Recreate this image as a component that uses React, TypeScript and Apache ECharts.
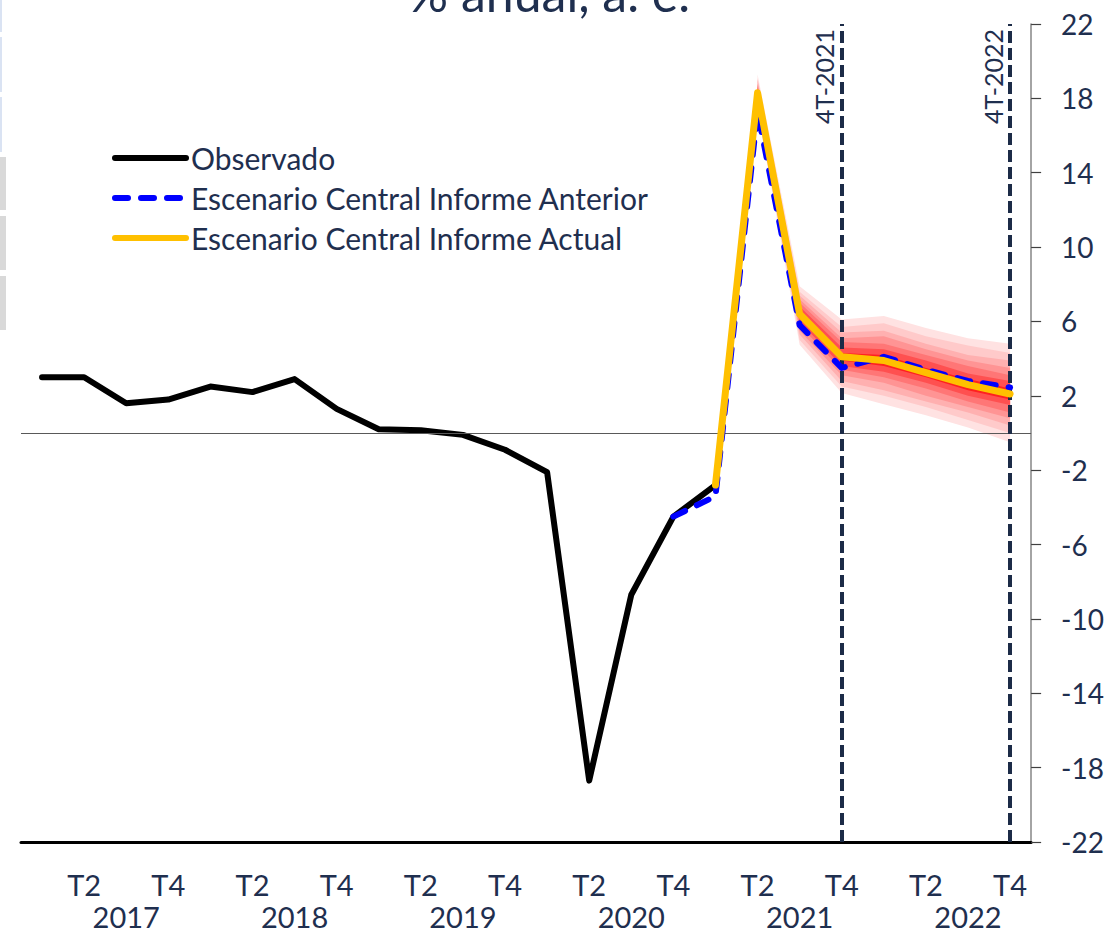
import { useEffect, useRef } from 'react';
import * as echarts from 'echarts';

const categories = [
  '2017 T1', '2017 T2', '2017 T3', '2017 T4',
  '2018 T1', '2018 T2', '2018 T3', '2018 T4',
  '2019 T1', '2019 T2', '2019 T3', '2019 T4',
  '2020 T1', '2020 T2', '2020 T3', '2020 T4',
  '2021 T1', '2021 T2', '2021 T3', '2021 T4',
  '2022 T1', '2022 T2', '2022 T3', '2022 T4',
];

const xTickLabels = [
  '', 'T2', '\n2017', 'T4',
  '', 'T2', '\n2018', 'T4',
  '', 'T2', '\n2019', 'T4',
  '', 'T2', '\n2020', 'T4',
  '', 'T2', '\n2021', 'T4',
  '', 'T2', '\n2022', 'T4',
];

const yTicks = [-22, -18, -14, -10, -6, -2, 2, 6, 10, 14, 18, 22];

// Observado: 2017 T1 .. 2021 T1
const observed = [3.0, 3.0, 1.6, 1.8, 2.5, 2.2, 2.9, 1.3, 0.2, 0.15, -0.1, -0.9, -2.1, -18.7, -8.7, -4.5, -2.8];
// Escenario Central Informe Anterior: 2020 T4 .. 2022 T4
const previousStart = 15;
const previousScenario = [-4.5, -3.4, 17.3, 5.8, 3.5, 4.1, 3.4, 2.8, 2.45];
// Escenario Central Informe Actual: 2021 T1 .. 2022 T4
const currentStart = 16;
const currentScenario = [-2.8, 18.3, 6.4, 4.1, 3.9, 3.25, 2.6, 2.1];

// Fan chart bands: 2021 T2 .. 2022 T4, outermost first
const fanStart = 17;
const fanUpper1 = [19.3, 7.9, 6.1, 6.3, 5.65, 5.1, 4.8];
const fanLower1 = [17.3, 4.75, 2.15, 1.55, 0.95, 0.3, -0.5];
const fanUpper2 = [19.1, 7.6, 5.7, 5.9, 5.2, 4.7, 4.3];
const fanLower2 = [17.5, 5.0, 2.5, 2.0, 1.4, 0.7, 0.0];
const fanUpper3 = [19.0, 7.4, 5.4, 5.5, 4.8, 4.2, 3.9];
const fanLower3 = [17.6, 5.3, 2.8, 2.3, 1.7, 1.1, 0.4];
const fanUpper4 = [18.8, 7.2, 5.1, 5.2, 4.5, 3.9, 3.5];
const fanLower4 = [17.8, 5.5, 3.1, 2.7, 2.0, 1.4, 0.8];
const fanUpper5 = [18.7, 7.0, 4.9, 4.8, 4.2, 3.6, 3.1];
const fanLower5 = [17.9, 5.8, 3.4, 3.0, 2.4, 1.7, 1.1];
const fanUpper6 = [18.6, 6.8, 4.6, 4.5, 3.9, 3.2, 2.8];
const fanLower6 = [18.0, 6.0, 3.6, 3.3, 2.7, 2.0, 1.5];
const fanUpper7 = [18.4, 6.6, 4.3, 4.2, 3.5, 2.9, 2.4];
const fanLower7 = [18.2, 6.2, 3.9, 3.6, 3.0, 2.3, 1.8];

const fanBands = [
  { upper: fanUpper1, lower: fanLower1, color: '#ffe2e2' },
  { upper: fanUpper2, lower: fanLower2, color: '#ffcaca' },
  { upper: fanUpper3, lower: fanLower3, color: '#ffb0b0' },
  { upper: fanUpper4, lower: fanLower4, color: '#ff9494' },
  { upper: fanUpper5, lower: fanLower5, color: '#ff7676' },
  { upper: fanUpper6, lower: fanLower6, color: '#ff5050' },
  { upper: fanUpper7, lower: fanLower7, color: '#ff2020' },
];

const projectionMarkers = [
  { category: '2021 T4', label: '4T-2021' },
  { category: '2022 T4', label: '4T-2022' },
];

const TEXT = '#1f2f4f';
const FONT = 'Lato';

function pad(start: number, arr: number[]) {
  return categories.map((_, i) => (i >= start && i - start < arr.length ? arr[i - start] : null));
}

function buildOption() {
  const fanSeries: any[] = [];
  fanBands.forEach((b, k) => {
    fanSeries.push({
      type: 'line',
      name: 'fanbase' + k,
      data: pad(fanStart, b.lower),
      stack: 'fan' + k,
      stackStrategy: 'all',
      symbol: 'none',
      lineStyle: { opacity: 0, width: 0 },
      silent: true,
      z: 1,
    });
    fanSeries.push({
      type: 'line',
      name: 'fanband' + k,
      data: pad(fanStart, b.upper.map((u, i) => u - b.lower[i])),
      stack: 'fan' + k,
      stackStrategy: 'all',
      symbol: 'none',
      lineStyle: { opacity: 0, width: 0 },
      areaStyle: { color: b.color, opacity: 1 },
      silent: true,
      z: 1,
    });
  });

  return {
    animation: false,
    backgroundColor: '#ffffff',
    textStyle: { fontFamily: FONT },
    grid: { left: 21, right: 73.5, top: 24, bottom: 85, containLabel: false },
    graphic: [
      { type: 'rect', shape: { x: 0, y: 0, width: 2, height: 32 }, style: { fill: '#dae3f3' } },
      { type: 'rect', shape: { x: 0, y: 37, width: 2, height: 55 }, style: { fill: '#dae3f3' } },
      { type: 'rect', shape: { x: 0, y: 97, width: 2, height: 55 }, style: { fill: '#dae3f3' } },
      { type: 'rect', shape: { x: 0, y: 157, width: 6, height: 53 }, style: { fill: '#d9d9d9' } },
      { type: 'rect', shape: { x: 0, y: 216, width: 6, height: 54 }, style: { fill: '#d9d9d9' } },
      { type: 'rect', shape: { x: 0, y: 276, width: 6, height: 54 }, style: { fill: '#d9d9d9' } },
      {
        type: 'text',
        x: 549,
        y: 18,
        style: {
          text: '% anual, a. e.',
          fontSize: 50,
          fontFamily: FONT,
          fill: TEXT,
          align: 'center',
          textAlign: 'center',
          verticalAlign: 'bottom',
          textVerticalAlign: 'bottom',
        },
      },
    ],
    legend: {
      data: ['Observado', 'Escenario Central Informe Anterior', 'Escenario Central Informe Actual'],
      orient: 'vertical',
      left: 112,
      top: 143,
      padding: 0,
      itemWidth: 71,
      itemHeight: 14,
      itemGap: 10,
      textStyle: { fontSize: 30, color: TEXT, fontFamily: FONT, lineHeight: 30 },
      lineStyle: { width: 6, cap: 'round' },
      itemStyle: { opacity: 0, borderWidth: 0 },
      selectedMode: false,
    },
    xAxis: {
      type: 'category',
      data: categories,
      boundaryGap: true,
      axisLine: { onZero: false, lineStyle: { color: '#000', width: 3 } },
      axisTick: { show: false },
      splitLine: { show: false },
      axisLabel: {
        interval: 0,
        formatter: (_v: string, idx: number) => xTickLabels[idx],
        fontSize: 29,
        lineHeight: 32,
        color: TEXT,
        fontFamily: FONT,
        margin: 26,
      },
    },
    yAxis: {
      type: 'value',
      position: 'right',
      min: -22,
      max: 22,
      splitLine: { show: false },
      axisLine: { show: true, lineStyle: { color: '#868686', width: 1.5 } },
      axisTick: { show: true, length: 10, inside: false, customValues: yTicks, lineStyle: { color: '#404040', width: 1.2 } },
      axisLabel: {
        customValues: yTicks,
        fontSize: 28,
        color: TEXT,
        fontFamily: FONT,
        margin: 30,
        align: 'left',
      },
    },
    series: [
      ...fanSeries,
      {
        type: 'line',
        name: 'markers',
        data: categories.map(() => null),
        symbol: 'none',
        silent: true,
        z: 3,
        markLine: {
          silent: true,
          symbol: ['none', 'none'],
          animation: false,
          data: [
            {
              yAxis: 0,
              lineStyle: { color: '#595959', width: 1.2, type: 'solid' },
              label: { show: false },
            },
            ...projectionMarkers.map((m) => ({
              xAxis: m.category,
              lineStyle: { color: '#1c2b47', width: 4, type: [12, 5] },
              label: {
                show: true,
                formatter: m.label,
                position: 'insideEndTop',
                fontSize: 25,
                color: TEXT,
                fontFamily: FONT,
              },
            })),
          ],
        },
      },
      {
        type: 'line',
        name: 'Observado',
        data: pad(0, observed),
        symbol: 'none',
        lineStyle: { color: '#000000', width: 6, cap: 'round', join: 'round' },
        itemStyle: { color: '#000000' },
        z: 4,
      },
      {
        type: 'line',
        name: 'Escenario Central Informe Anterior',
        data: pad(previousStart, previousScenario),
        symbol: 'none',
        lineStyle: { color: '#0000ff', width: 6, type: [13, 13], cap: 'round', join: 'round' },
        itemStyle: { color: '#0000ff' },
        z: 5,
      },
      {
        type: 'line',
        name: 'Escenario Central Informe Actual',
        data: pad(currentStart, currentScenario),
        symbol: 'none',
        lineStyle: { color: '#ffc000', width: 7, cap: 'round', join: 'round' },
        itemStyle: { color: '#ffc000' },
        z: 6,
      },
    ],
  };
}

export default function App() {
  const ref = useRef<HTMLDivElement>(null);
  useEffect(() => {
    const chart = echarts.init(ref.current!, null, { renderer: 'svg' });
    chart.setOption(buildOption() as any);
    return () => chart.dispose();
  }, []);
  return (
    <div
      ref={ref}
      style={{ position: 'fixed', left: 0, top: 0, width: 1107, height: 932, background: '#fff' }}
    />
  );
}
